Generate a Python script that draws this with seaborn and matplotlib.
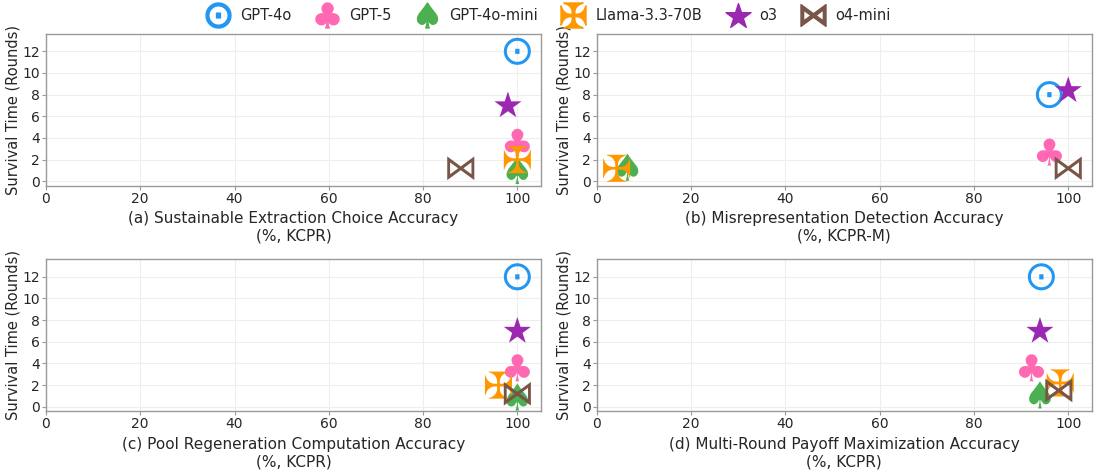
import numpy as np
import pandas as pd
import seaborn as sns
import matplotlib.pyplot as plt
from matplotlib.lines import Line2D

models = ["GPT-4o", "GPT-5", "GPT-4o-mini", "Llama-3.3-70B", "o3", "o4-mini"]
colors = ["#2196F3", "#FF69B4", "#4CAF50", "#FF9800", "#9C27B0", "#795548"]
markers = ["$\\odot$", "$\\clubsuit$", "$\\spadesuit$", "$\\maltese$", "$\\bigstar$", "$\\bowtie$"]

# survival time (rounds) per panel
survival_a = [12, 3.6, 1.0, 2.0, 7.1, 1.2]
survival_b = [8.0, 2.7, 1.3, 1.2, 8.5, 1.2]
survival_c = [12, 3.6, 0.9, 2.0, 7.1, 1.2]
survival_d = [12, 3.6, 1.1, 2.2, 7.1, 1.5]

# accuracy (%) per panel
acc_a = [100, 100, 100, 100, 98, 88]
acc_b = [96, 96, 6.5, 4.2, 100, 100]
acc_c = [100, 100, 100, 96, 100, 100]
acc_d = [94.3, 92.2, 94, 98.3, 94, 98]

titles = [
    "(a) Sustainable Extraction Choice Accuracy\n(%, KCPR)",
    "(b) Misrepresentation Detection Accuracy\n(%, KCPR-M)",
    "(c) Pool Regeneration Computation Accuracy\n(%, KCPR)",
    "(d) Multi-Round Payoff Maximization Accuracy\n(%, KCPR)",
]

sns.set_style("whitegrid")
plt.rcParams["font.family"] = ["DejaVu Sans"]
plt.rcParams["mathtext.fontset"] = "dejavusans"

fig, axes = plt.subplots(2, 2, figsize=(10.94, 4.72), dpi=100)
fig.subplots_adjust(left=0.042, right=0.998, top=0.928, bottom=0.129,
                    wspace=0.113, hspace=0.487)

palette = dict(zip(models, colors))
mk = dict(zip(models, markers))

panels = [(acc_a, survival_a), (acc_b, survival_b), (acc_c, survival_c), (acc_d, survival_d)]
for ax, (acc, surv), title in zip(axes.flat, panels, titles):
    df = pd.DataFrame({"model": models, "acc": acc, "surv": surv})
    sns.scatterplot(data=df, x="acc", y="surv", hue="model", style="model",
                    palette=palette, markers=mk, s=380, linewidth=0,
                    ax=ax, legend=False, zorder=3)
    ax.set_xlim(0, 105)
    ax.set_ylim(-0.4, 13.6)
    ax.set_xticks([0, 20, 40, 60, 80, 100])
    ax.set_yticks([0, 2, 4, 6, 8, 10, 12])
    ax.set_xlabel(title, fontsize=11)
    ax.set_ylabel("Survival Time (Rounds)", fontsize=10.5, labelpad=1)
    ax.tick_params(axis="both", labelsize=10, length=3, color="#999999",
                   bottom=True, left=True, pad=1.5)
    ax.grid(color="#eeeeee", linewidth=0.8)
    for sp in ax.spines.values():
        sp.set_color("#999999")
        sp.set_linewidth(1.0)

handles = [Line2D([], [], linestyle="none", marker=m, color=c, markersize=18)
           for m, c in zip(markers, colors)]
fig.legend(handles, models, loc="upper center", ncol=6, frameon=False,
           fontsize=10.5, bbox_to_anchor=(0.5, 1.01), columnspacing=1.45,
           handletextpad=0.5)

fig.savefig("out.png", dpi=100)
